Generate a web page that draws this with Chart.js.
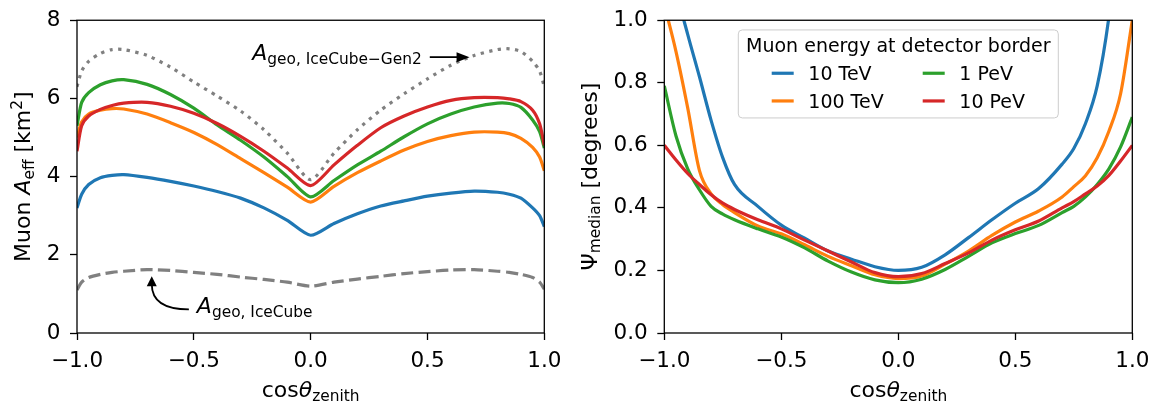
<!DOCTYPE html>
<html>
<head>
<meta charset="utf-8">
<script src="https://cdn.jsdelivr.net/npm/chart.js@4.4.1/dist/chart.umd.min.js"></script>
<style>
  html, body { margin: 0; padding: 0; background: #fff; }
  #wrap { position: relative; width: 1158px; height: 409px; overflow: hidden; }
  #aeff { position: absolute; left: 0; top: 0; }
  #psi { position: absolute; left: 565px; top: 0; }
</style>
</head>
<body>
<div id="wrap">
  <canvas id="aeff" width="600" height="409"></canvas>
  <canvas id="psi" width="620" height="409"></canvas>
</div>
<script>
// ---- data ----
const energyLabels = ["10 TeV", "100 TeV", "1 PeV", "10 PeV"];
const energyColors = ["#1f77b4", "#ff7f0e", "#2ca02c", "#d62728"];

// left panel: muon effective area [km^2]
const cosZenith = [-1, -0.98, -0.95, -0.9, -0.85, -0.8, -0.7, -0.6, -0.5, -0.4, -0.3, -0.2, -0.1, 0,
                   0.1, 0.2, 0.3, 0.4, 0.5, 0.6, 0.7, 0.8, 0.85, 0.9, 0.95, 0.98, 1];
const aeff10TeV  = [3.2, 3.55, 3.8, 3.97, 4.03, 4.05, 3.98, 3.88, 3.76, 3.62, 3.45, 3.2, 2.88, 2.5,
                    2.8, 3.05, 3.25, 3.38, 3.5, 3.58, 3.63, 3.6, 3.55, 3.45, 3.2, 3.0, 2.72];
const aeff100TeV = [5.0, 5.4, 5.6, 5.7, 5.74, 5.73, 5.6, 5.38, 5.13, 4.82, 4.46, 4.1, 3.73, 3.35,
                    3.75, 4.1, 4.4, 4.68, 4.9, 5.05, 5.14, 5.14, 5.1, 4.98, 4.75, 4.5, 4.15];
const aeff1PeV   = [5.3, 5.9, 6.15, 6.35, 6.45, 6.48, 6.36, 6.1, 5.75, 5.32, 4.93, 4.5, 4.0, 3.48,
                    3.9, 4.3, 4.65, 5.02, 5.35, 5.6, 5.78, 5.88, 5.87, 5.77, 5.45, 5.15, 4.73];
const aeff10PeV  = [4.65, 5.3, 5.55, 5.72, 5.82, 5.88, 5.9, 5.8, 5.62, 5.36, 5.03, 4.65, 4.22, 3.77,
                    4.3, 4.8, 5.25, 5.55, 5.78, 5.95, 6.02, 6.02, 5.99, 5.92, 5.7, 5.35, 4.8];
const ageoGen2    = [6.3, 6.7, 6.95, 7.15, 7.25, 7.25, 7.1, 6.8, 6.42, 6.06, 5.68, 5.2, 4.6, 3.92,
                     4.6, 5.2, 5.7, 6.12, 6.5, 6.85, 7.1, 7.25, 7.27, 7.2, 6.95, 6.7, 6.3];
const ageoIceCube = [1.1, 1.3, 1.42, 1.5, 1.55, 1.58, 1.62, 1.6, 1.55, 1.5, 1.43, 1.37, 1.3, 1.2,
                     1.3, 1.38, 1.45, 1.52, 1.57, 1.61, 1.62, 1.58, 1.55, 1.5, 1.42, 1.3, 1.12];

// right panel: median angular error [degrees]
const psiCosZenith = [-1, -0.95, -0.9, -0.85, -0.8, -0.75, -0.7, -0.6, -0.5, -0.4, -0.3, -0.2, -0.1, 0,
                      0.1, 0.2, 0.3, 0.4, 0.5, 0.6, 0.7, 0.75, 0.8, 0.85, 0.9, 0.95, 1];
const psi10TeV  = [1.3, 1.1, 0.955, 0.82, 0.68, 0.56, 0.475, 0.405, 0.345, 0.303, 0.262, 0.236, 0.212, 0.2,
                   0.21, 0.25, 0.305, 0.362, 0.415, 0.462, 0.54, 0.59, 0.67, 0.79, 1.01, 1.35, 1.8];
const psi100TeV = [1.05, 0.9, 0.72, 0.52, 0.445, 0.41, 0.385, 0.342, 0.317, 0.282, 0.245, 0.215, 0.186, 0.174,
                   0.182, 0.22, 0.262, 0.312, 0.355, 0.39, 0.435, 0.468, 0.503, 0.56, 0.645, 0.765, 1.0];
const psi1PeV   = [0.79, 0.63, 0.525, 0.458, 0.405, 0.38, 0.362, 0.333, 0.307, 0.272, 0.23, 0.195, 0.17, 0.161,
                   0.172, 0.203, 0.245, 0.288, 0.318, 0.344, 0.385, 0.405, 0.435, 0.475, 0.525, 0.595, 0.69];
const psi10PeV  = [0.6, 0.553, 0.51, 0.475, 0.442, 0.415, 0.395, 0.362, 0.333, 0.297, 0.262, 0.227, 0.193, 0.18,
                   0.19, 0.222, 0.256, 0.297, 0.33, 0.358, 0.4, 0.42, 0.445, 0.47, 0.504, 0.55, 0.6];

// ticks
const xTickValues = [-1, -0.5, 0, 0.5, 1];
const xTickLabels = ["\u22121.0", "\u22120.5", "0.0", "0.5", "1.0"];
const aeffTickValues = [0, 2, 4, 6, 8];
const aeffTickLabels = ["0", "2", "4", "6", "8"];
const psiTickValues = [0, 0.2, 0.4, 0.6, 0.8, 1.0];
const psiTickLabels = ["0.0", "0.2", "0.4", "0.6", "0.8", "1.0"];

const legendTitle = "Muon energy at detector border";

// ---- helpers ----
const FAMILY = '"DejaVu Sans"';
Chart.defaults.font.family = FAMILY;
Chart.defaults.color = "#000";

function fontOf(p) {
  return (p.it ? "italic " : "") + p.s + "px " + FAMILY;
}

function richWidth(ctx, parts) {
  let w = 0;
  for (const p of parts) {
    ctx.font = fontOf(p);
    w += ctx.measureText(p.t).width;
  }
  return w;
}

function drawRich(ctx, parts, x, y) {
  for (const p of parts) {
    ctx.font = fontOf(p);
    ctx.fillText(p.t, x, y + (p.dy || 0));
    x += ctx.measureText(p.t).width;
  }
}

function arrowHead(ctx, x, y, ang, len, half) {
  ctx.beginPath();
  ctx.moveTo(x, y);
  ctx.lineTo(x - len * Math.cos(ang) - half * Math.sin(ang), y - len * Math.sin(ang) + half * Math.cos(ang));
  ctx.lineTo(x - len * Math.cos(ang) + half * Math.sin(ang), y - len * Math.sin(ang) - half * Math.cos(ang));
  ctx.closePath();
  ctx.fill();
}

function points(xs, ys) {
  return xs.map((x, i) => ({ x: x, y: ys[i] }));
}

// frame + axis titles
const axisText = {
  id: "axisText",
  afterDraw(chart, args, opts) {
    const ctx = chart.ctx, a = chart.chartArea;
    ctx.save();
    ctx.strokeStyle = "#000";
    ctx.lineWidth = 1.3;
    ctx.strokeRect(a.left, a.top, a.right - a.left, a.bottom - a.top);
    ctx.fillStyle = "#000";
    ctx.textAlign = "left";
    ctx.textBaseline = "alphabetic";
    const xw = richWidth(ctx, opts.xTitle);
    drawRich(ctx, opts.xTitle, (a.left + a.right) / 2 - xw / 2, opts.xTitleY);
    ctx.translate(opts.yTitleX, (a.top + a.bottom) / 2);
    ctx.rotate(-Math.PI / 2);
    const yw = richWidth(ctx, opts.yTitle);
    drawRich(ctx, opts.yTitle, -yw / 2, 0);
    ctx.restore();
  }
};

// the two A_geo annotations on the left panel
const geoNotes = {
  id: "geoNotes",
  afterDraw(chart, args, opts) {
    if (!opts.show) return;
    const ctx = chart.ctx, xs = chart.scales.x, ys = chart.scales.y;
    ctx.save();
    ctx.fillStyle = "#000";
    ctx.strokeStyle = "#000";
    ctx.lineWidth = 1.8;
    ctx.textBaseline = "alphabetic";

    // IceCube-Gen2, straight arrow to the right
    const gen2 = [{ t: "A", s: 22, it: true }, { t: "geo, IceCube\u2212Gen2", s: 15.4, dy: 3.5 }];
    let tx = xs.getPixelForValue(-0.25), ty = ys.getPixelForValue(6.98);
    drawRich(ctx, gen2, tx, ty);
    let sx = tx + richWidth(ctx, gen2) + 8, sy = ty - 3;
    let hx = xs.getPixelForValue(0.68), hy = sy;
    ctx.beginPath();
    ctx.moveTo(sx, sy);
    ctx.lineTo(hx - 10, hy);
    ctx.stroke();
    arrowHead(ctx, hx, hy, 0, 13, 5);

    // IceCube, curved arrow up to the dashed line
    const ic = [{ t: "A", s: 22, it: true }, { t: "geo, IceCube", s: 15.4, dy: 3.5 }];
    tx = xs.getPixelForValue(-0.487);
    ty = ys.getPixelForValue(0.5);
    drawRich(ctx, ic, tx, ty);
    sx = tx - 8; sy = ty - 4;
    hx = xs.getPixelForValue(-0.68);
    hy = ys.getPixelForValue(1.45);
    ctx.beginPath();
    ctx.moveTo(sx, sy);
    ctx.quadraticCurveTo(hx, sy, hx, hy + 8);
    ctx.stroke();
    arrowHead(ctx, hx, hy, -Math.PI / 2, 10, 5);
    ctx.restore();
  }
};

// matplotlib style legend box
const energyLegend = {
  id: "energyLegend",
  afterDraw(chart, args, opts) {
    if (!opts.show) return;
    const ctx = chart.ctx, a = chart.chartArea;
    const w = 320, h = 88, r = 4;
    const x0 = (a.left + a.right) / 2 - w / 2, y0 = a.top + 9.7;
    ctx.save();
    ctx.beginPath();
    ctx.moveTo(x0 + r, y0);
    ctx.arcTo(x0 + w, y0, x0 + w, y0 + h, r);
    ctx.arcTo(x0 + w, y0 + h, x0, y0 + h, r);
    ctx.arcTo(x0, y0 + h, x0, y0, r);
    ctx.arcTo(x0, y0, x0 + w, y0, r);
    ctx.closePath();
    ctx.fillStyle = "rgba(255,255,255,0.8)";
    ctx.fill();
    ctx.strokeStyle = "#cccccc";
    ctx.lineWidth = 1;
    ctx.stroke();

    ctx.fillStyle = "#000";
    ctx.textBaseline = "alphabetic";
    ctx.font = "19px " + FAMILY;
    ctx.textAlign = "center";
    ctx.fillText(opts.title, x0 + w / 2, y0 + 21.6);
    ctx.textAlign = "left";
    const colX = [33.4, 184.4], rowY = [43.3, 71];
    chart.data.datasets.forEach((ds, i) => {
      const lx = x0 + colX[Math.floor(i / 2)], ly = y0 + rowY[i % 2];
      ctx.strokeStyle = ds.borderColor;
      ctx.lineWidth = 3.2;
      ctx.beginPath();
      ctx.moveTo(lx, ly);
      ctx.lineTo(lx + 22, ly);
      ctx.stroke();
      ctx.fillText(ds.label, lx + 36.6, ly + 6.7);
    });
    ctx.restore();
  }
};

function scales(yMin, yMax, yValues, yLabels, yWidth) {
  const tickFont = { size: 21.5, lineHeight: 1 };
  const grid = { drawOnChartArea: false, drawTicks: true, tickLength: 7, tickWidth: 1.3, tickColor: "#000" };
  return {
    x: {
      type: "linear", min: -1, max: 1,
      afterBuildTicks: s => { s.ticks = xTickValues.map(v => ({ value: v })); },
      afterFit: s => { s.height = 76; },
      ticks: { callback: (v, i) => xTickLabels[i], font: tickFont, color: "#000", padding: 11, maxRotation: 0, autoSkip: false },
      grid: grid,
      border: { display: false }
    },
    y: {
      type: "linear", min: yMin, max: yMax,
      afterBuildTicks: s => { s.ticks = yValues.map(v => ({ value: v })); },
      afterFit: s => { s.width = yWidth; },
      ticks: { callback: (v, i) => yLabels[i], font: tickFont, color: "#000", padding: 9.5, autoSkip: false },
      grid: grid,
      border: { display: false }
    }
  };
}

const xTitle = [{ t: "cos", s: 22 }, { t: "\u03b8", s: 22, it: true }, { t: "zenith", s: 15.4, dy: 3.5 }];

// ---- left panel ----
const aeffSeries = [aeff10TeV, aeff100TeV, aeff1PeV, aeff10PeV];
const aeffSets = aeffSeries.map((ys, i) => ({
  label: energyLabels[i],
  data: points(cosZenith, ys),
  borderColor: energyColors[i],
  borderWidth: 3.2,
  tension: 0.25,
  order: 3 - i
}));
aeffSets.push({
  label: "A_geo IceCube-Gen2", data: points(cosZenith, ageoGen2),
  borderColor: "#808080", borderWidth: 3.2, borderDash: [3.3, 5.4], tension: 0.25, order: 5
});
aeffSets.push({
  label: "A_geo IceCube", data: points(cosZenith, ageoIceCube),
  borderColor: "#808080", borderWidth: 3.2, borderDash: [12.2, 5.3], tension: 0.25, order: 6
});

new Chart(document.getElementById("aeff"), {
  type: "line",
  data: { datasets: aeffSets },
  options: {
    responsive: false,
    animation: false,
    events: [],
    clip: 0,
    elements: { point: { radius: 0 }, line: { fill: false } },
    layout: { padding: { left: 0, top: 12, right: 55.7, bottom: 0 } },
    scales: scales(0, 8, aeffTickValues, aeffTickLabels, 77),
    plugins: {
      legend: { display: false },
      tooltip: { enabled: false },
      axisText: {
        xTitle: xTitle, xTitleY: 397, yTitleX: 30,
        yTitle: [{ t: "Muon ", s: 22 }, { t: "A", s: 22, it: true }, { t: "eff", s: 15.4, dy: 3.5 },
                 { t: " [km", s: 22 }, { t: "2", s: 15.4, dy: -8 }, { t: "]", s: 22 }]
      },
      geoNotes: { show: true },
      energyLegend: { show: false }
    }
  },
  plugins: [axisText, geoNotes, energyLegend]
});

// ---- right panel ----
const psiSeries = [psi10TeV, psi100TeV, psi1PeV, psi10PeV];
const psiSets = psiSeries.map((ys, i) => ({
  label: energyLabels[i],
  data: points(psiCosZenith, ys),
  borderColor: energyColors[i],
  borderWidth: 3.2,
  cubicInterpolationMode: "monotone",
  order: 3 - i
}));

new Chart(document.getElementById("psi"), {
  type: "line",
  data: { datasets: psiSets },
  options: {
    responsive: false,
    animation: false,
    events: [],
    clip: 0,
    elements: { point: { radius: 0 }, line: { fill: false } },
    layout: { padding: { left: 0, top: 12, right: 52.7, bottom: 0 } },
    scales: scales(0, 1, psiTickValues, psiTickLabels, 99.3),
    plugins: {
      legend: { display: false },
      tooltip: { enabled: false },
      axisText: {
        xTitle: xTitle, xTitleY: 397, yTitleX: 31.7,
        yTitle: [{ t: "\u03a8", s: 22 }, { t: "median", s: 15.4, dy: 3.5 }, { t: " [degrees]", s: 22 }]
      },
      geoNotes: { show: false },
      energyLegend: { show: true, title: legendTitle }
    }
  },
  plugins: [axisText, geoNotes, energyLegend]
});
</script>
</body>
</html>
